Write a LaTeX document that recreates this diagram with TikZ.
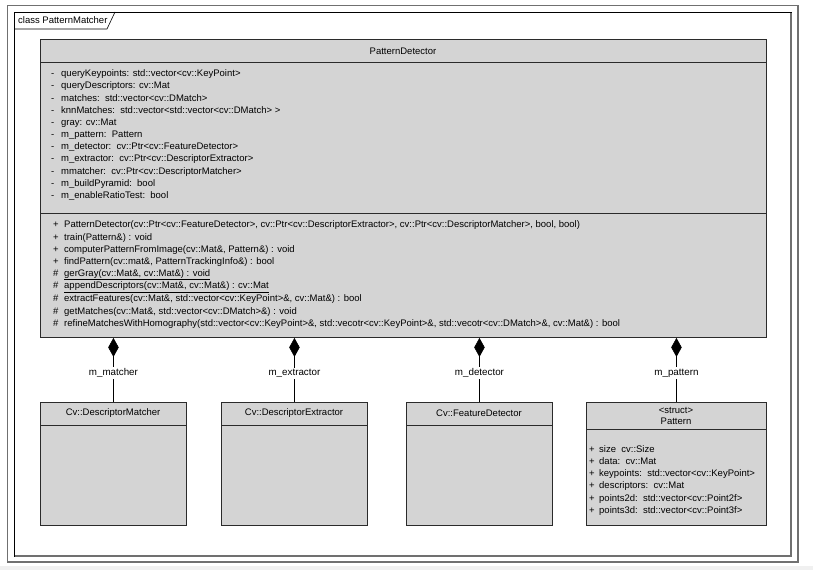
\documentclass[tikz,border=0pt]{standalone}
\usepackage{fontspec}
\setmainfont{Liberation Sans}
\usetikzlibrary{arrows.meta, positioning, calc}
\definecolor{umlfill}{HTML}{D4D4D4}
\definecolor{umlline}{HTML}{2B2B2B}
\definecolor{framegray}{HTML}{707070}
\definecolor{stripgray}{HTML}{F0F0F0}

\tikzset{
  umlbox/.style={draw=umlline, fill=umlfill, line width=0.9pt, rectangle, anchor=north west, inner sep=0pt},
  umltext/.style={anchor=west, inner sep=0pt, font=\fontsize{9.5}{10}\selectfont},
  umltitle/.style={inner sep=0pt, font=\fontsize{9.5}{10}\selectfont},
  composite/.style={draw=black, line width=0.6pt, {Diamond[length=19pt, width=10.5pt]}-},
  rolelabel/.style={fill=white, inner sep=1.5pt, font=\fontsize{9.8}{10}\selectfont}
}

\begin{document}
\begin{tikzpicture}[x=1pt, y=-1pt]
  \useasboundingbox (0,0) rectangle (813,570);
  % Page background
  \fill[white] (0,0) rectangle (813,570);
  \fill[stripgray] (0,566) rectangle (813,570);

  % Outer frame with shadow edge
  \draw[framegray, line width=0.8pt] (7,5) rectangle (798,562);
  \draw[framegray, line width=1.6pt] (798,5) -- (798,562) -- (7,562);

  % Package frame and its tab
  \draw[black, line width=0.7pt] (14,12) rectangle (791,556);
  \draw[framegray, line width=1.2pt] (791,13) -- (791,556) -- (15,556);
  \draw[black, line width=0.6pt] (14,29) -- (107,29) -- (115,12);
  \node[umltext] (tab) at (18,20.5) {class PatternMatcher};

  % PatternDetector class
  \node[umlbox, minimum width=726pt, minimum height=298pt] (detector) at (40,39) {};
  \draw[umlline, line width=0.9pt] (40,62) -- (766,62);
  \draw[umlline, line width=0.9pt] (40,213) -- (766,213);
  \node[umltitle] (detector-title) at (403,51) {PatternDetector};

  % Attributes
  \foreach \txt [count=\i from 0] in {
      queryKeypoints: std::vector<cv::KeyPoint>,
      queryDescriptors: cv::Mat,
      matches:\ \ std::vector<cv::DMatch>,
      knnMatches:\ \ std::vector<std::vector<cv::DMatch> >,
      gray: cv::Mat,
      m\_pattern:\ \ Pattern,
      m\_detector:\ \ cv::Ptr<cv::FeatureDetector>,
      m\_extractor:\ \ cv::Ptr<cv::DescriptorExtractor>,
      mmatcher:\ \ cv::Ptr<cv::DescriptorMatcher>,
      m\_buildPyramid:\ \ bool,
      m\_enableRatioTest:\ \ bool}
    \node[umltext] (attr-\i) at (51, 74+12.2*\i) {\makebox[10pt][l]{-}\txt};

  % Operations
  \foreach \sym/\txt [count=\i from 0] in {
      +/{PatternDetector(cv::Ptr<cv::FeatureDetector>, cv::Ptr<cv::DescriptorExtractor>, cv::Ptr<cv::DescriptorMatcher>, bool, bool)},
      +/{train(Pattern\&) : void},
      +/{computerPatternFromImage(cv::Mat\&, Pattern\&) : void},
      +/{findPattern(cv::mat\&, PatternTrackingInfo\&) : bool},
      \#/{\underline{gerGray(cv::Mat\&, cv::Mat\&) : void}},
      \#/{\underline{appendDescriptors(cv::Mat\&, cv::Mat\&) : cv::Mat}},
      \#/{extractFeatures(cv::Mat\&, std::vector<cv::KeyPoint>\&, cv::Mat\&) : bool},
      \#/{getMatches(cv::Mat\&, std::vector<cv::DMatch>\&) : void},
      \#/{refineMatchesWithHomography(std::vector<cv::KeyPoint>\&, std::vecotr<cv::KeyPoint>\&, std::vecotr<cv::DMatch>\&, cv::Mat\&) : bool}}
    \node[umltext] (op-\i) at (53, 225.5+12.3*\i) {\makebox[11pt][l]{\sym}\txt};

  % Part classes
  \node[umlbox, minimum width=146pt, minimum height=123pt] (matcher) at (40,402) {};
  \node[umlbox, minimum width=146pt, minimum height=123pt] (extractor) at (221,402) {};
  \node[umlbox, minimum width=146pt, minimum height=123pt] (fdetector) at (406,402) {};
  \node[umlbox, minimum width=180pt, minimum height=123pt] (pattern) at (586,402) {};
  \draw[umlline, line width=0.9pt] (40,425) -- (186,425);
  \draw[umlline, line width=0.9pt] (221,425) -- (367,425);
  \draw[umlline, line width=0.9pt] (406,425) -- (552,425);
  \draw[umlline, line width=0.9pt] (586,429) -- (766,429);
  \node[umltitle] (matcher-title) at (113,413.5) {Cv::DescriptorMatcher};
  \node[umltitle] (extractor-title) at (294,413.5) {Cv::DescriptorExtractor};
  \node[umltitle] (fdetector-title) at (479,413.5) {Cv::FeatureDetector};
  \node[umltitle] (pattern-stereo) at (676,410) {<struct>};
  \node[umltitle] (pattern-title) at (676,421) {Pattern};

  % Pattern attributes
  \foreach \txt [count=\i from 0] in {
      size\ \ cv::Size,
      data:\ \ cv::Mat,
      keypoints:\ \ std::vector<cv::KeyPoint>,
      descriptors:\ \ cv::Mat,
      points2d:\ \ std::vector<cv::Point2f>,
      points3d:\ \ std::vector<cv::Point3f>}
    \node[umltext] (pattr-\i) at (589, 449+12.4*\i) {\makebox[10pt][l]{+}\txt};

  % Compositions
  \draw[composite] (detector.south -| matcher.north) -- node[rolelabel, pos=0.55] (role-matcher) {m\_matcher} (matcher.north);
  \draw[composite] (detector.south -| extractor.north) -- node[rolelabel, pos=0.55] (role-extractor) {m\_extractor} (extractor.north);
  \draw[composite] (detector.south -| fdetector.north) -- node[rolelabel, pos=0.55] (role-detector) {m\_detector} (fdetector.north);
  \draw[composite] (detector.south -| pattern.north) -- node[rolelabel, pos=0.55] (role-pattern) {m\_pattern} (pattern.north);
\end{tikzpicture}
\end{document}
